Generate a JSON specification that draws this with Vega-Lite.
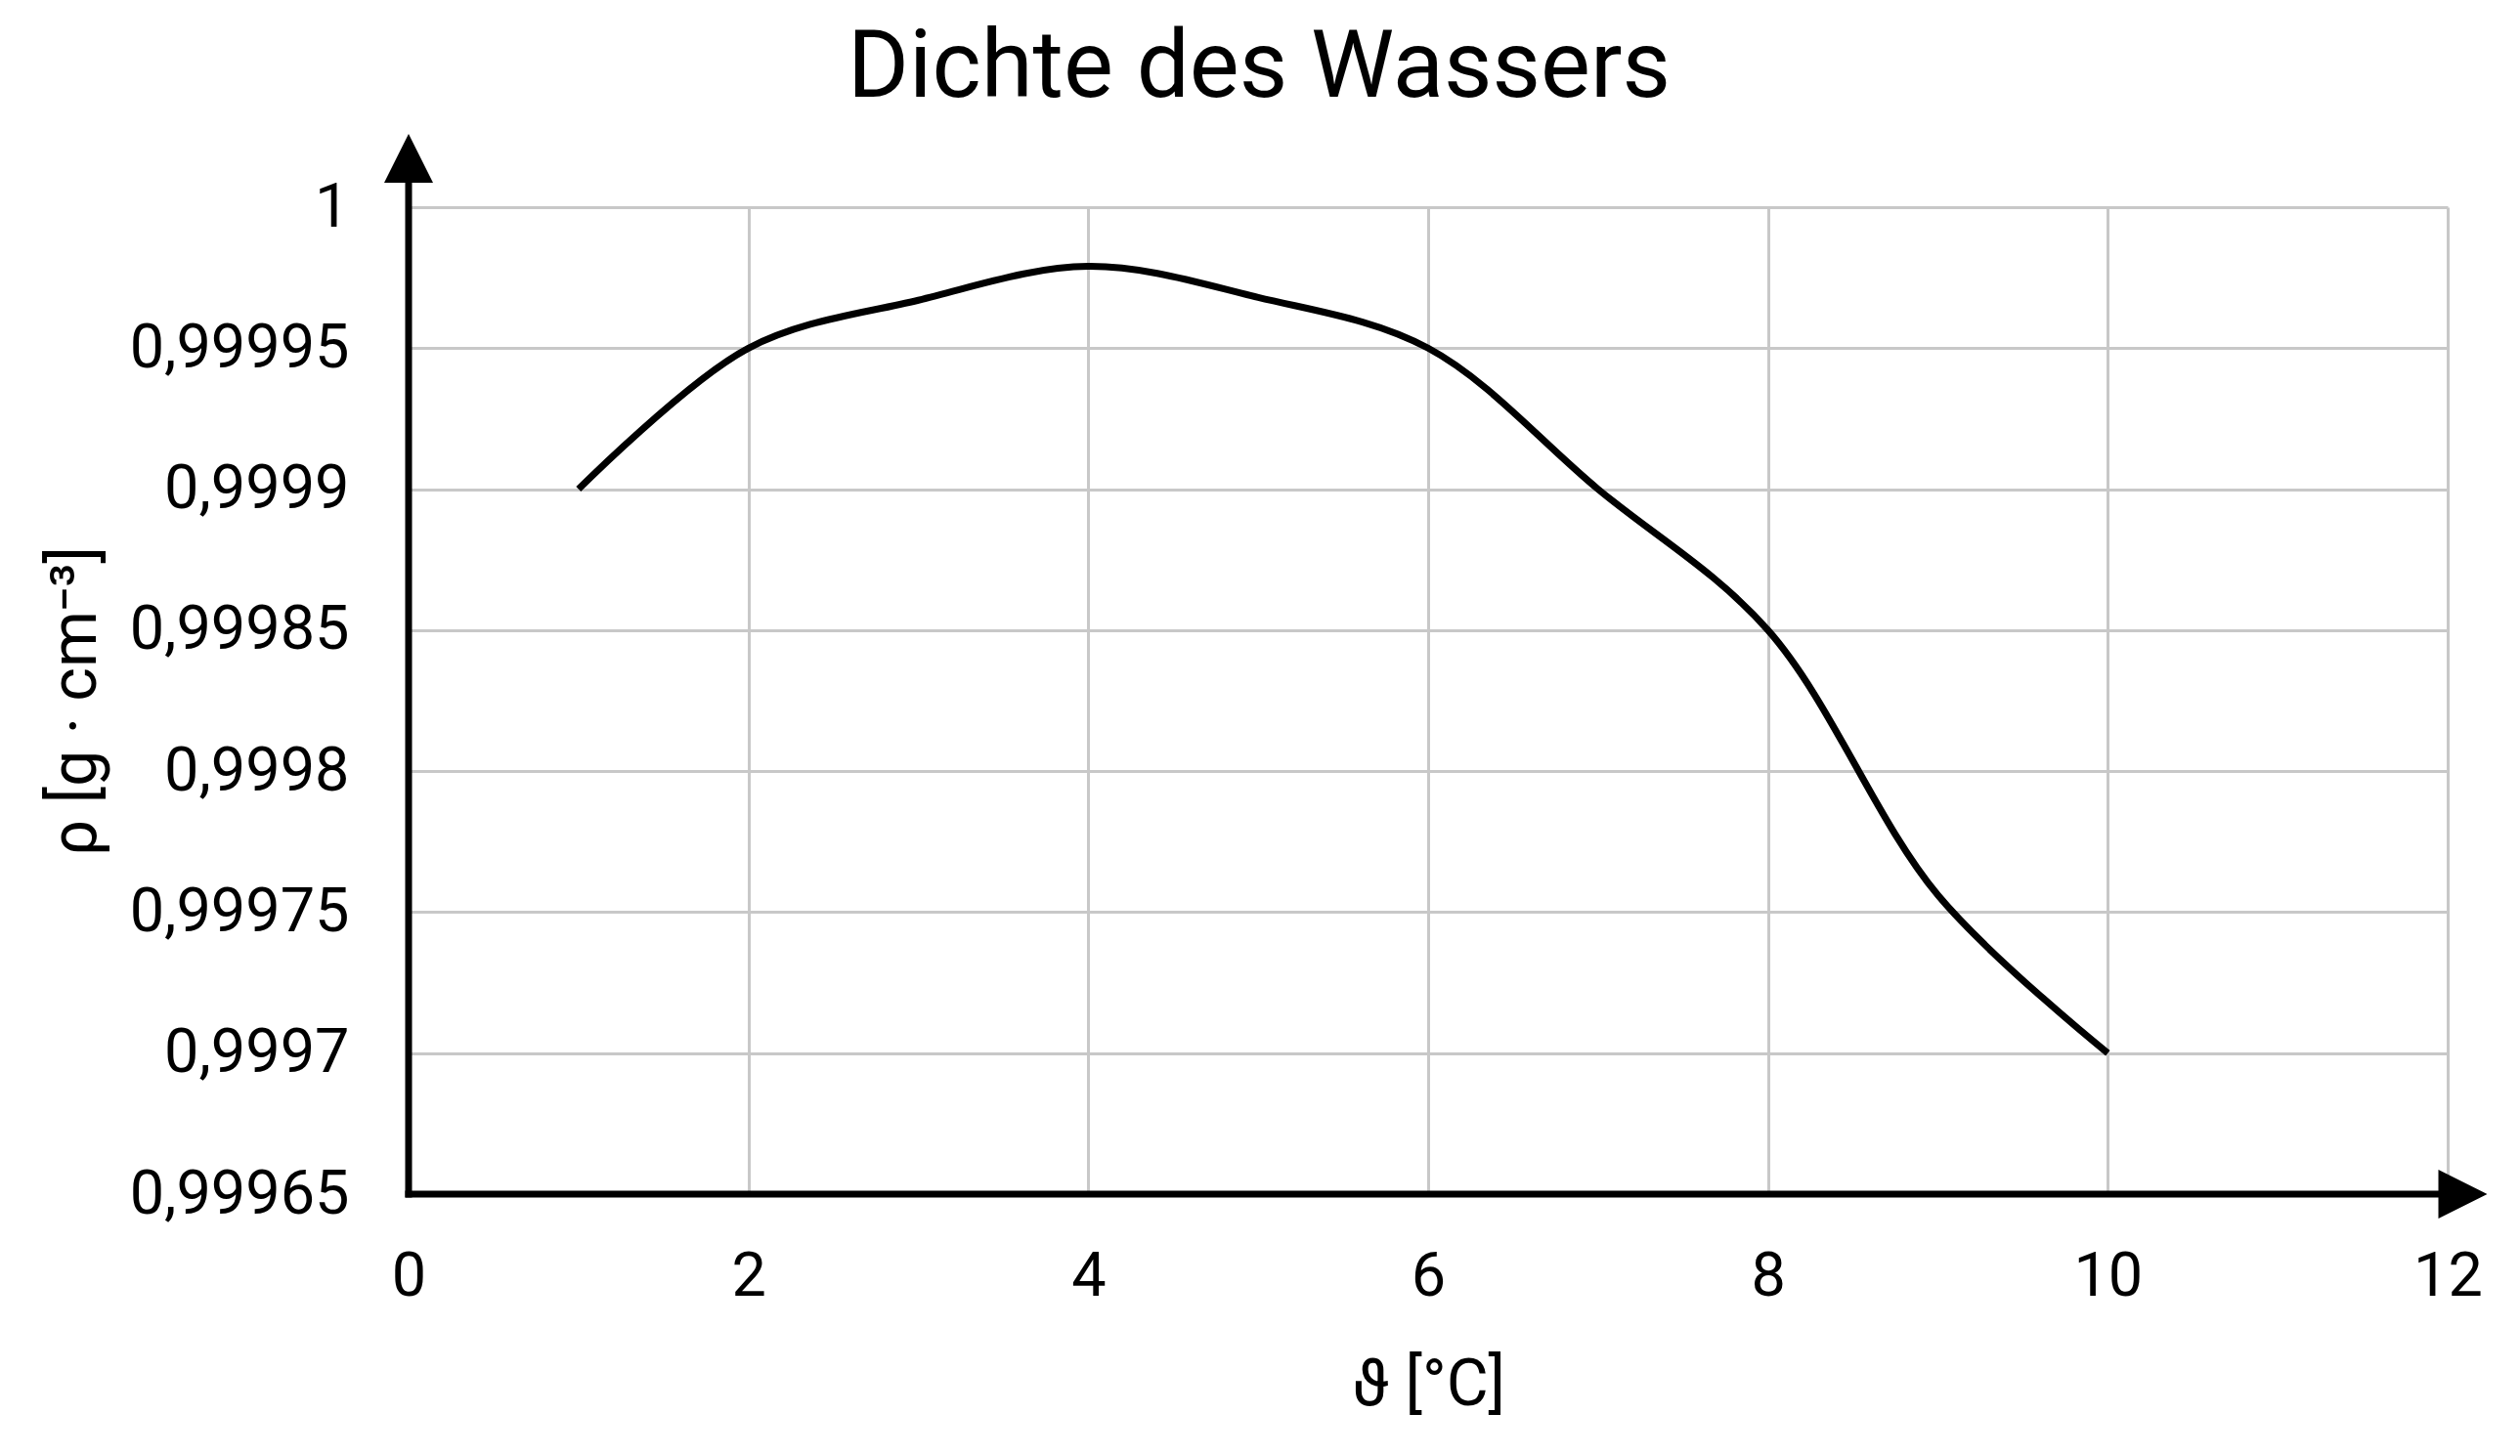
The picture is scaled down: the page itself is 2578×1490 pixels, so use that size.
{
  "$schema": "https://vega.github.io/schema/vega-lite/v6.json",
  "width": 2086,
  "height": 1010,
  "autosize": {"type": "none"},
  "padding": {"left": 418, "top": 212, "right": 74, "bottom": 268},
  "background": "white",
  "title": {
    "text": "Dichte des Wassers",
    "font": "Roboto",
    "fontSize": 96,
    "fontWeight": "normal",
    "color": "#000000",
    "anchor": "middle",
    "frame": "group",
    "dx": -173,
    "baseline": "alphabetic",
    "offset": -58
  },
  "config": {"view": {"stroke": null}, "font": "Roboto"},
  "layer": [
    {
      "data": {
        "values": [
          {"t": 1, "rho": 0.9999},
          {"t": 2, "rho": 0.99995},
          {"t": 3, "rho": 0.999967},
          {"t": 4, "rho": 0.999979},
          {"t": 5, "rho": 0.999968},
          {"t": 6, "rho": 0.99995},
          {"t": 7, "rho": 0.9999},
          {"t": 8, "rho": 0.99985},
          {"t": 9, "rho": 0.999756},
          {"t": 10, "rho": 0.9997}
        ]
      },
      "mark": {"type": "line", "interpolate": "catmull-rom", "color": "#000000", "strokeWidth": 7, "strokeCap": "butt"},
      "encoding": {
        "x": {
          "field": "t",
          "type": "quantitative",
          "scale": {"domain": [0, 12], "nice": false, "zero": false},
          "axis": {
            "title": "ϑ [°C]",
            "titleFont": "Roboto",
            "titleFontSize": 66,
            "titleFontWeight": "normal",
            "titleColor": "#000000",
            "titlePadding": 47,
            "values": [0, 2, 4, 6, 8, 10, 12],
            "format": "d",
            "labelFont": "Roboto",
            "labelFontSize": 63,
            "labelColor": "#000000",
            "labelPadding": 53,
            "labelFlush": false,
            "labelOverlap": false,
            "labelLimit": 400,
            "ticks": false,
            "domain": false,
            "grid": true,
            "gridColor": "#c8c8c8",
            "gridWidth": 3
          }
        },
        "y": {
          "field": "rho",
          "type": "quantitative",
          "scale": {"domain": [0.99965, 1], "nice": false, "zero": false},
          "axis": {
            "title": "ρ [g · cm⁻³]",
            "titleFont": "Roboto",
            "titleFontSize": 66,
            "titleFontWeight": "normal",
            "titleColor": "#000000",
            "titlePadding": 107,
            "values": [0.99965, 0.9997, 0.99975, 0.9998, 0.99985, 0.9999, 0.99995, 1],
            "labelExpr": "replace(format(datum.value, '.5~f'), '.', ',')",
            "labelFont": "Roboto",
            "labelFontSize": 63,
            "labelColor": "#000000",
            "labelPadding": 61,
            "labelFlush": false,
            "labelOverlap": false,
            "labelLimit": 400,
            "ticks": false,
            "domain": false,
            "grid": true,
            "gridColor": "#c8c8c8",
            "gridWidth": 3
          }
        }
      }
    },
    {
      "data": {"values": [{"x1": 0, "x2": 12, "y1": 0.99965}]},
      "mark": {"type": "rule", "color": "#000000", "strokeWidth": 7, "strokeCap": "square"},
      "encoding": {
        "x": {"field": "x1", "type": "quantitative"},
        "x2": {"field": "x2"},
        "y": {"field": "y1", "type": "quantitative"}
      }
    },
    {
      "data": {"values": [{"x1": 0, "y1": 0.99965, "y2": 1.00001}]},
      "mark": {"type": "rule", "color": "#000000", "strokeWidth": 7, "strokeCap": "square"},
      "encoding": {
        "x": {"field": "x1", "type": "quantitative"},
        "y": {"field": "y1", "type": "quantitative"},
        "y2": {"field": "y2"}
      }
    },
    {
      "data": {"values": [{"x": 0, "y": 1.0000173}]},
      "mark": {"type": "point", "shape": "M0,-1L1,1L-1,1Z", "size": 2500, "filled": true, "color": "#000000", "opacity": 1},
      "encoding": {
        "x": {"field": "x", "type": "quantitative"},
        "y": {"field": "y", "type": "quantitative"}
      }
    },
    {
      "data": {"values": [{"x": 12.089, "y": 0.99965}]},
      "mark": {"type": "point", "shape": "M1,0L-1,-1L-1,1Z", "size": 2500, "filled": true, "color": "#000000", "opacity": 1},
      "encoding": {
        "x": {"field": "x", "type": "quantitative"},
        "y": {"field": "y", "type": "quantitative"}
      }
    }
  ]
}
